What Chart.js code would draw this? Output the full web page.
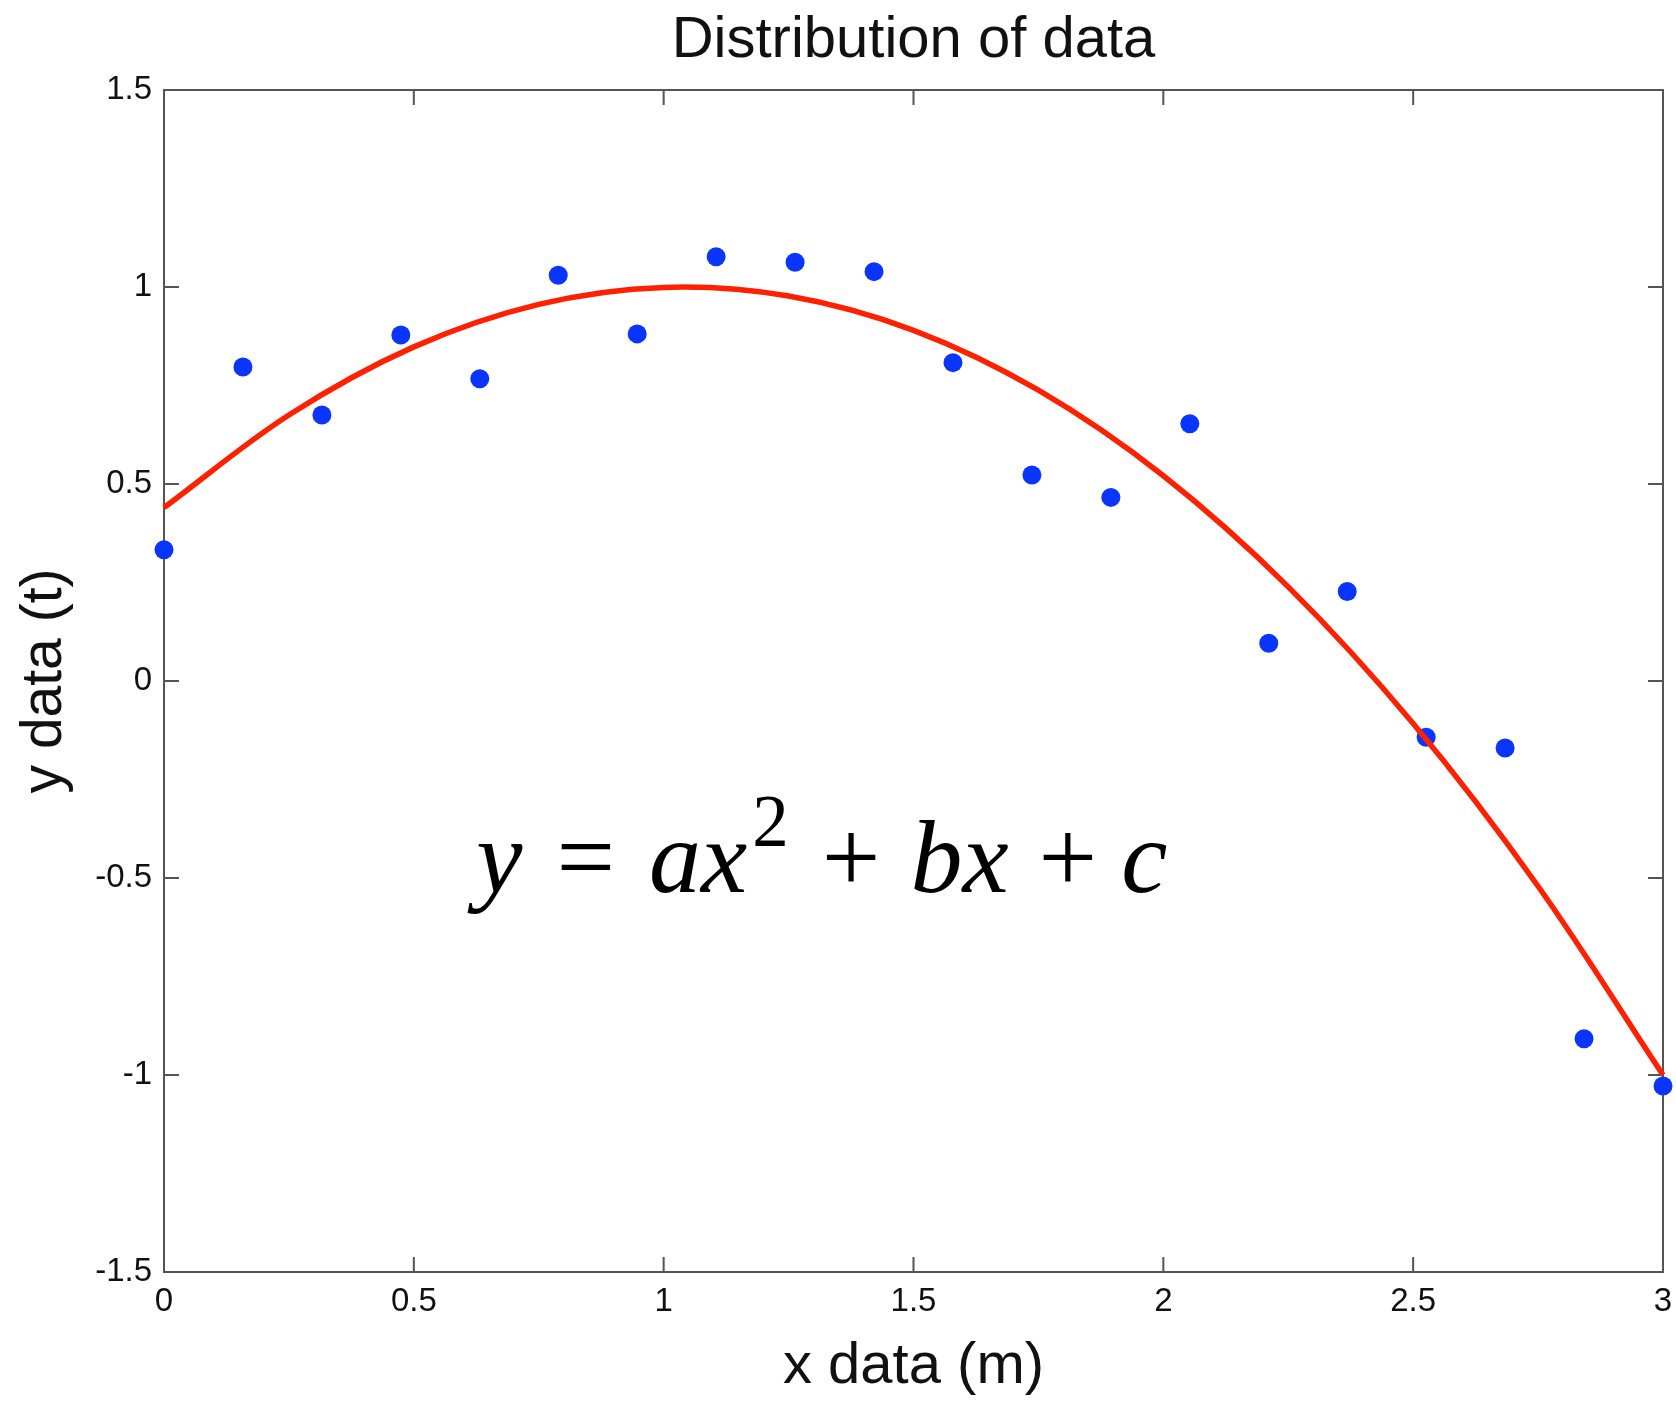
<!DOCTYPE html>
<html>
<head>
<meta charset="utf-8">
<script src="https://cdn.jsdelivr.net/npm/chart.js@4.4.0/dist/chart.umd.min.js"></script>
<style>
  html, body { margin: 0; padding: 0; background: #fff; }
  #wrap { width: 1676px; height: 1402px; }
</style>
</head>
<body>
<div id="wrap"><canvas id="chart" width="1676" height="1402"></canvas></div>
<script>
// ---------- DATA ----------
const xData = [0, 0.158, 0.316, 0.474, 0.632, 0.789, 0.947, 1.105, 1.263, 1.421,
               1.579, 1.737, 1.895, 2.053, 2.211, 2.368, 2.526, 2.684, 2.842, 3.0];
const yData = [0.333, 0.797, 0.675, 0.878, 0.767, 1.030, 0.881, 1.077, 1.063, 1.039,
               0.808, 0.523, 0.466, 0.653, 0.096, 0.227, -0.143, -0.170, -0.908, -1.028];

// fitted curve
const fitX = [0, 0.25, 0.5, 0.75, 1.0, 1.25, 1.5, 1.75, 2.0, 2.25, 2.5, 2.75, 3.0];
const fitY = [0.44, 0.675, 0.848, 0.956, 0.999, 0.977, 0.89, 0.738, 0.521, 0.239, -0.108, -0.521, -1.0];

const xTicks = [0, 0.5, 1, 1.5, 2, 2.5, 3];
const yTicks = [-1.5, -1, -0.5, 0, 0.5, 1, 1.5];

const TITLE = "Distribution of data";
const X_LABEL = "x data (m)";
const Y_LABEL = "y data (t)";

const SANS = "'Liberation Sans', Arial, Helvetica, sans-serif";
const SERIF = "'Liberation Serif', 'Times New Roman', serif";
const AXIS_COLOR = "#555";

// ---------- PLOT BOX + INWARD TICKS ----------
const boxPlugin = {
    id: "box",
    beforeDatasetsDraw(chart) {
        const { ctx, chartArea: a, scales } = chart;
        const len = 15;
        ctx.save();
        ctx.strokeStyle = AXIS_COLOR;
        ctx.lineWidth = 2;
        ctx.strokeRect(a.left, a.top, a.right - a.left, a.bottom - a.top);
        ctx.beginPath();
        xTicks.forEach(v => {
            const px = scales.x.getPixelForValue(v);
            ctx.moveTo(px, a.bottom); ctx.lineTo(px, a.bottom - len);
            ctx.moveTo(px, a.top);    ctx.lineTo(px, a.top + len);
        });
        yTicks.forEach(v => {
            const py = scales.y.getPixelForValue(v);
            ctx.moveTo(a.left, py);  ctx.lineTo(a.left + len, py);
            ctx.moveTo(a.right, py); ctx.lineTo(a.right - len, py);
        });
        ctx.stroke();
        ctx.restore();
    }
};

// ---------- EQUATION ANNOTATION ----------
const eqPlugin = {
    id: "equation",
    afterDatasetsDraw(chart) {
        const { ctx, scales } = chart;
        const size = 104;
        // [text, style, gap before]
        const pieces = [
            ["y", "i", 0], ["=", "r", 34], ["a", "i", 34], ["x", "i", 0], ["2", "s", 5],
            ["+", "r", 33], ["b", "i", 30], ["x", "i", 0], ["+", "r", 30], ["c", "i", 24]
        ];
        let x = scales.x.getPixelForValue(0.625);
        const base = scales.y.getPixelForValue(-0.536);
        ctx.save();
        ctx.fillStyle = "#000";
        ctx.textBaseline = "alphabetic";
        ctx.textAlign = "left";
        pieces.forEach(([t, st, gap]) => {
            x += gap;
            let y = base;
            if (st === "i") ctx.font = `italic ${size}px ${SERIF}`;
            else if (st === "r") ctx.font = `${size}px ${SERIF}`;
            else { ctx.font = `${Math.round(size * 0.7)}px ${SERIF}`; y = base - size * 0.44; }
            ctx.fillText(t, x, y);
            x += ctx.measureText(t).width;
        });
        ctx.restore();
    }
};

const points = xData.map((x, i) => ({ x, y: yData[i] }));
const fit = fitX.map((x, i) => ({ x, y: fitY[i] }));

new Chart(document.getElementById("chart"), {
    type: "scatter",
    data: {
        datasets: [
            {
                type: "line",
                data: fit,
                borderColor: "#ff2000",
                borderWidth: 5.5,
                pointRadius: 0,
                tension: 0.35,
                fill: false,
                order: 0,
                clip: false
            },
            {
                data: points,
                backgroundColor: "#0a35ff",
                borderWidth: 0,
                pointRadius: 9.5,
                order: 1,
                clip: false
            }
        ]
    },
    options: {
        responsive: false,
        animation: false,
        layout: { padding: { left: 0, right: 13, top: 0, bottom: 0 } },
        plugins: {
            legend: { display: false },
            tooltip: { enabled: false },
            title: {
                display: true,
                fullSize: false,
                text: TITLE,
                color: "#111",
                font: { family: SANS, size: 58, weight: "normal", lineHeight: 1.2 },
                padding: { top: 6, bottom: 14.4 }
            }
        },
        scales: {
            x: {
                type: "linear",
                min: 0, max: 3,
                afterFit: s => { s.height = 130; s.paddingLeft = 0; s.paddingRight = 0; },
                afterBuildTicks: s => { s.ticks = xTicks.map(v => ({ value: v })); },
                grid: { display: false, drawTicks: false },
                border: { display: false },
                ticks: { color: "#111", font: { family: SANS, size: 33 }, padding: 10, maxRotation: 0,
                         callback: v => String(v) },
                title: {
                    display: true, text: X_LABEL, color: "#111",
                    font: { family: SANS, size: 58, lineHeight: 1.2 },
                    padding: { top: 0, bottom: 0 }
                }
            },
            y: {
                type: "linear",
                min: -1.5, max: 1.5,
                afterFit: s => { s.width = 164; s.paddingTop = 0; s.paddingBottom = 0; },
                afterBuildTicks: s => { s.ticks = yTicks.map(v => ({ value: v })); },
                grid: { display: false, drawTicks: false },
                border: { display: false },
                ticks: { color: "#111", font: { family: SANS, size: 33 }, padding: 12,
                         callback: v => String(v) },
                title: {
                    display: true, text: Y_LABEL, color: "#111",
                    font: { family: SANS, size: 57, lineHeight: 1.2 },
                    padding: { top: 11, bottom: 0 }
                }
            }
        }
    },
    plugins: [boxPlugin, eqPlugin]
});
</script>
</body>
</html>
